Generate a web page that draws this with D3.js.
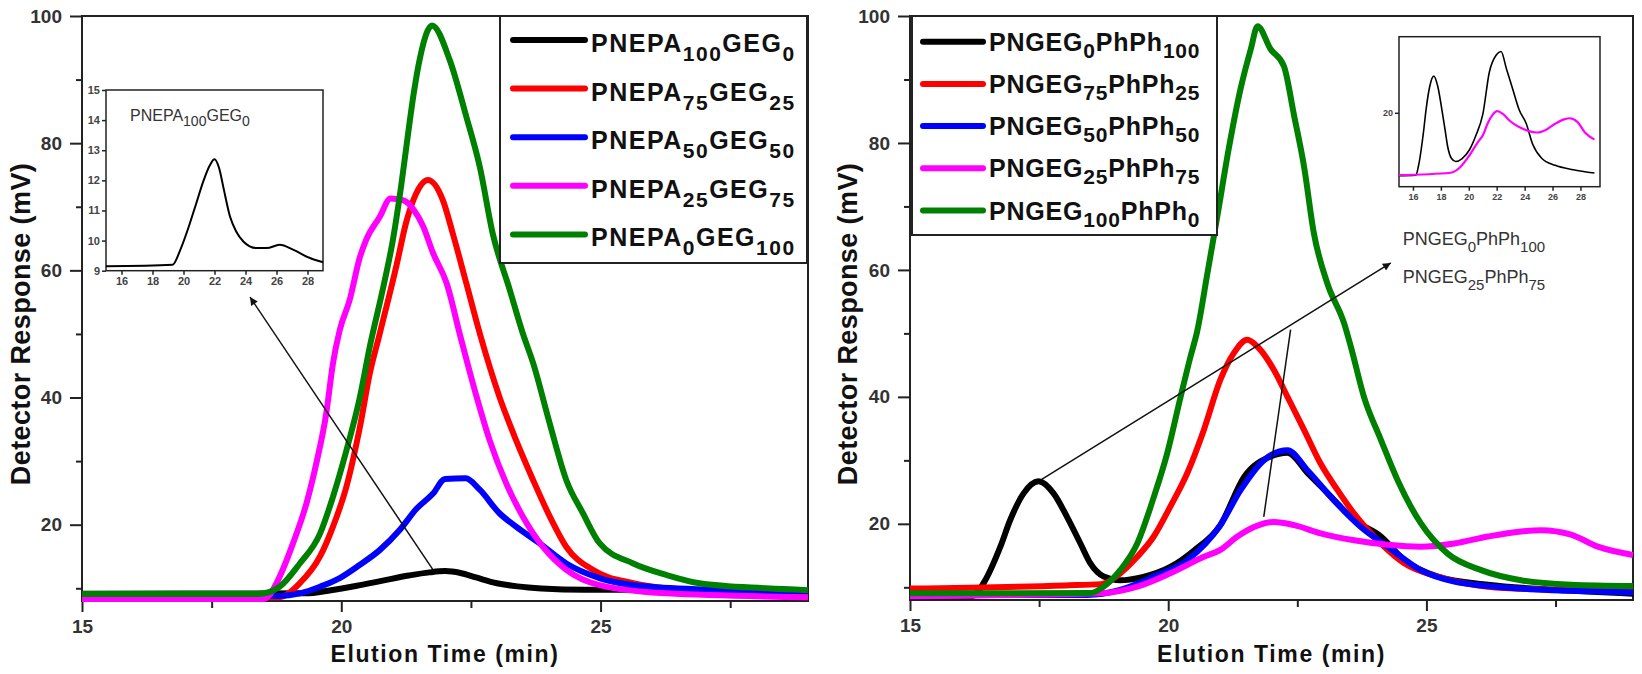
<!DOCTYPE html>
<html>
<head>
<meta charset="utf-8">
<script src="https://cdn.jsdelivr.net/npm/d3@7"></script>
<style>
  body { margin: 0; background: #fff; }
  svg { display: block; font-family: "Liberation Sans", Arial, sans-serif; }
</style>
</head>
<body>
<script>
// ---- left panel series: [elution time (min), detector response (mV)]
var pnepa100_geg0 = [[15,9.15],[19.3,9.2],[19.8,9.7],[20.3,10.4],[20.8,11.2],[21.3,12.0],[21.7,12.5],[22.0,12.7],[22.3,12.4],[22.6,11.7],[23.0,10.8],[23.4,10.3],[23.86,9.97],[24.7,9.75],[25.37,9.75],[26.2,9.86],[27.1,9.69],[28.16,9.42],[29,9.28]];
var pnepa75_geg25 = [[15,8.6],[18.8,8.6],[19.2,10.8],[19.59,15.0],[19.84,19.7],[20.1,26.0],[20.36,35.4],[20.55,43.8],[20.74,50.0],[21.06,60.6],[21.25,67.5],[21.44,72.0],[21.67,74.2],[21.96,71.0],[22.15,65.8],[22.41,58.0],[22.67,50.1],[23.05,40.1],[23.37,33.3],[23.7,27.0],[24.02,21.3],[24.34,16.5],[24.85,12.9],[25.63,10.8],[26.27,10.0],[27.5,9.5],[29,9.3]];
var pnepa50_geg50 = [[15,8.8],[18.8,8.8],[19.2,9.2],[19.59,10.25],[19.97,11.6],[20.36,13.7],[20.74,16.0],[21.13,19.2],[21.45,22.5],[21.77,24.9],[22.0,27.2],[22.4,27.3],[22.67,25.5],[23.05,21.8],[23.37,19.7],[23.82,17.1],[24.34,13.9],[24.98,11.6],[25.95,10.25],[27.55,9.7],[29,9.5]];
var pnepa25_geg75 = [[15,8.3],[18.5,8.3],[18.6,8.8],[18.81,11.8],[19.07,17.1],[19.33,23.4],[19.52,29.7],[19.71,37.5],[19.84,45.4],[19.97,50.6],[20.16,55.3],[20.36,62.1],[20.48,64.8],[20.74,68.4],[20.95,71.3],[21.2,71.0],[21.4,69.5],[21.58,66.9],[21.77,62.7],[22.03,58.0],[22.3,49.5],[22.61,40.1],[22.86,33.3],[23.18,26.5],[23.5,21.3],[23.89,16.5],[24.34,12.9],[24.98,10.5],[26.27,9.2],[29,8.6]];
var pnepa0_geg100 = [[15,9.1],[18.4,9.1],[18.81,10.25],[19.2,13.9],[19.59,18.6],[19.84,24.4],[20.1,31.7],[20.36,40.1],[20.55,48.0],[20.8,57.0],[21.0,65.0],[21.15,73.0],[21.28,81.0],[21.4,88.0],[21.52,93.5],[21.75,98.5],[22.09,93.1],[22.41,84.2],[22.67,76.3],[22.92,65.8],[23.25,56.9],[23.5,50.1],[23.7,45.4],[24.02,35.9],[24.34,27.0],[24.66,21.8],[24.98,17.1],[25.63,13.9],[26.27,12.1],[26.91,10.8],[28.2,10.0],[29,9.7]];

// ---- right panel series
var pngeg0_phph100 = [[15,8.5],[16.2,8.6],[16.42,10.6],[16.75,16.4],[16.94,20.6],[17.2,24.8],[17.49,26.7],[17.78,24.8],[18.04,21.1],[18.3,16.9],[18.49,13.8],[18.75,11.7],[19.07,11.1],[19.5,11.6],[20.04,13.2],[20.5,15.8],[21.01,19.8],[21.47,27.4],[21.98,30.6],[22.31,31.2],[22.7,28.0],[23.15,24.3],[23.6,20.6],[24.12,18.0],[24.57,14.3],[25.22,11.7],[26.19,10.4],[27.48,9.6],[29,9.0]];
var pngeg75_phph25 = [[15,9.8],[18.0,10.3],[18.7,10.5],[19.07,12.2],[19.4,14.8],[19.72,18.0],[20.04,22.7],[20.37,28.0],[20.69,34.8],[21.01,42.7],[21.27,46.9],[21.53,49.0],[21.73,47.9],[22.05,44.2],[22.31,40.0],[22.63,34.8],[22.95,29.5],[23.28,25.3],[23.6,21.6],[24.12,16.9],[24.57,13.8],[25.22,11.7],[26.19,10.1],[27.48,9.6],[29,9.4]];
var pngeg50_phph50 = [[15,8.8],[18.43,8.8],[19.07,9.6],[19.72,11.7],[20.37,14.3],[21.01,19.8],[21.4,25.3],[21.85,30.0],[22.31,31.6],[22.7,28.4],[23.21,23.7],[23.73,19.5],[24.25,16.4],[24.89,12.7],[25.54,10.9],[26.83,9.8],[28.45,9.3],[29,9.2]];
var pngeg25_phph75 = [[15,8.6],[18.69,9.05],[19.4,10.1],[20.04,12.2],[20.69,14.8],[21.01,15.9],[21.34,18.0],[21.66,19.5],[22.05,20.3],[22.44,19.8],[22.95,18.5],[23.6,17.4],[24.25,16.7],[24.89,16.4],[25.54,16.9],[26.19,18.0],[26.83,18.8],[27.22,19.0],[27.8,18.3],[28.32,16.4],[29,15.1]];
var pngeg100_phph0 = [[15,9.05],[18.5,9.1],[18.75,10.1],[19.07,12.7],[19.4,16.9],[19.72,24.2],[19.98,31.1],[20.24,40.0],[20.43,46.3],[20.56,50.3],[20.76,59.5],[20.95,68.4],[21.17,79.0],[21.4,88.5],[21.6,94.8],[21.73,98.4],[21.98,94.8],[22.24,92.1],[22.44,84.2],[22.63,76.3],[22.82,65.8],[23.08,57.9],[23.41,51.5],[23.54,47.8],[23.79,40.0],[24.12,33.2],[24.44,26.9],[24.89,20.1],[25.41,15.3],[26.06,12.7],[26.83,11.1],[27.8,10.4],[29,10.2]];

// ---- labels (parts alternate normal / subscript)
var leftLabels = [["PNEPA","100","GEG","0"],["PNEPA","75","GEG","25"],["PNEPA","50","GEG","50"],["PNEPA","25","GEG","75"],["PNEPA","0","GEG","100"]];
var rightLabels = [["PNGEG","0","PhPh","100"],["PNGEG","75","PhPh","25"],["PNGEG","50","PhPh","50"],["PNGEG","25","PhPh","75"],["PNGEG","100","PhPh","0"]];
var seriesColors = ["#000000","#ff0000","#0000ff","#ff00ff","#008000"];

var yMajorTicks = [20, 40, 60, 80, 100];
var yMinorTicks = [10, 30, 50, 70, 90];
var xMajorTicks = [15, 20, 25];
var xMinorTicks = [17.5, 22.5, 27.5];
var insetXTicks = [16, 18, 20, 22, 24, 26, 28];
var leftInsetYTicks = [9, 10, 11, 12, 13, 14, 15];
var rightInsetYTicks = [20];

// annotation arrows in data units [time, mV]
var leftArrow = [[21.76, 13.0], [18.24, 55.8]];
var rightArrow = [[17.55, 27.0], [24.31, 61.1]];
var rightPointer = [[21.85, 21.1], [22.37, 50.6]];
var rightNotes = [["PNGEG","0","PhPh","100"], ["PNGEG","25","PhPh","75"]];

var width = 1642, height = 674;

var svg = d3.select("body").append("svg")
  .attr("width", width)
  .attr("height", height);

svg.append("defs").append("marker")
  .attr("id", "head")
  .attr("viewBox", "0 0 10 10")
  .attr("refX", 10).attr("refY", 5)
  .attr("markerWidth", 12).attr("markerHeight", 8)
  .attr("markerUnits", "userSpaceOnUse")
  .attr("orient", "auto")
  .append("path")
  .attr("d", "M0,0 L10,5 L0,10 z")
  .attr("fill", "#111");

// writes parts as normal / subscript tspans
function addParts(text, parts, size, subSize, shift) {
  parts.forEach(function (p, i) {
    var t = text.append("tspan").text(p);
    if (i % 2 == 1) {
      t.attr("font-size", subSize).attr("dy", shift);
    } else {
      t.attr("font-size", size).attr("dy", i == 0 ? 0 : -shift);
    }
  });
}

function styleAxis(g, fontSize, color) {
  g.select(".domain").remove();
  g.selectAll(".tick line").attr("stroke", "#222").attr("stroke-width", 2);
  g.selectAll(".tick text")
    .attr("font-size", fontSize)
    .attr("font-weight", "bold")
    .attr("fill", color)
    .attr("font-family", "Liberation Sans, Arial, sans-serif");
}

function drawPanel(p) {
  var x = d3.scaleLinear().domain([15, 29]).range([p.left, p.right]);
  var y = d3.scaleLinear().domain([8, 100]).range([p.bottom, p.top]);

  var g = svg.append("g");

  // axes
  var yAxis = g.append("g").attr("transform", `translate(${p.left},0)`)
    .call(d3.axisLeft(y).tickValues(yMajorTicks).tickSize(12).tickSizeOuter(0).tickPadding(8).tickFormat(d3.format("d")));
  styleAxis(yAxis, 19, "#333");
  var yMinor = g.append("g").attr("transform", `translate(${p.left},0)`)
    .call(d3.axisLeft(y).tickValues(yMinorTicks).tickSize(6).tickSizeOuter(0).tickFormat(""));
  styleAxis(yMinor, 19, "#333");

  var xAxis = g.append("g").attr("transform", `translate(0,${p.bottom})`)
    .call(d3.axisBottom(x).tickValues(xMajorTicks).tickSize(11).tickSizeOuter(0).tickPadding(8).tickFormat(d3.format("d")));
  styleAxis(xAxis, 19, "#333");
  var xMinor = g.append("g").attr("transform", `translate(0,${p.bottom})`)
    .call(d3.axisBottom(x).tickValues(xMinorTicks).tickSize(7).tickSizeOuter(0).tickFormat(""));
  styleAxis(xMinor, 19, "#333");

  // frame
  g.append("rect")
    .attr("x", p.left).attr("y", p.top)
    .attr("width", p.right - p.left).attr("height", p.bottom - p.top)
    .attr("fill", "none").attr("stroke", "#222").attr("stroke-width", 2);

  // curves
  var line = d3.line()
    .x(function (d) { return x(d[0]); })
    .y(function (d) { return y(d[1]); })
    .curve(d3.curveMonotoneX);

  g.selectAll("path.curve")
    .data(p.series)
    .enter()
    .append("path")
    .attr("class", "curve")
    .attr("d", line)
    .attr("fill", "none")
    .attr("stroke", function (d, i) { return seriesColors[i]; })
    .attr("stroke-width", 6)
    .attr("stroke-linejoin", "round");

  // titles
  g.append("text")
    .attr("transform", `translate(${p.yTitleX},324) rotate(-90)`)
    .attr("text-anchor", "middle")
    .attr("font-size", 27).attr("font-weight", "bold")
    .attr("letter-spacing", 0.4)
    .attr("fill", "#111")
    .text("Detector Response (mV)");

  g.append("text")
    .attr("x", (p.left + p.right) / 2).attr("y", 662)
    .attr("text-anchor", "middle")
    .attr("font-size", 23).attr("font-weight", "bold")
    .attr("letter-spacing", 1.6)
    .attr("fill", "#111")
    .text("Elution Time (min)");

  // legend
  var L = p.legend;
  g.append("rect")
    .attr("x", L.x).attr("y", p.top)
    .attr("width", L.w).attr("height", L.h)
    .attr("fill", "#fff").attr("stroke", "#222").attr("stroke-width", 2);

  p.labels.forEach(function (lab, i) {
    var ly = L.row0 + i * L.step;
    g.append("line")
      .attr("x1", L.lineX0).attr("x2", L.lineX1)
      .attr("y1", ly).attr("y2", ly)
      .attr("stroke", seriesColors[i])
      .attr("stroke-width", 6)
      .attr("stroke-linecap", "round");
    var t = g.append("text")
      .attr("x", L.textX).attr("y", ly + L.textDy)
      .attr("font-weight", "bold")
      .attr("letter-spacing", L.spacing)
      .attr("fill", "#111");
    addParts(t, lab, 25, 21, L.shift);
  });

  return {x: x, y: y, g: g};
}

var left = drawPanel({
  left: 82, right: 808, top: 16, bottom: 601, yTitleX: 30,
  series: [pnepa100_geg0, pnepa75_geg25, pnepa50_geg50, pnepa25_geg75, pnepa0_geg100],
  labels: leftLabels,
  legend: {x: 500, w: 307, h: 247, row0: 40, step: 48.6, lineX0: 513, lineX1: 585, textX: 591, textDy: 12, spacing: 1.5, shift: 9}
});

var right = drawPanel({
  left: 910, right: 1633, top: 16, bottom: 600, yTitleX: 857,
  series: [pngeg0_phph100, pngeg75_phph25, pngeg50_phph50, pngeg25_phph75, pngeg100_phph0],
  labels: rightLabels,
  legend: {x: 912, w: 305, h: 219, row0: 41.7, step: 42.2, lineX0: 923, lineX1: 983, textX: 989, textDy: 9, spacing: 0.8, shift: 7}
});

// arrows
function arrow(panel, pts, head) {
  var l = panel.g.append("line")
    .attr("x1", panel.x(pts[0][0])).attr("y1", panel.y(pts[0][1]))
    .attr("x2", panel.x(pts[1][0])).attr("y2", panel.y(pts[1][1]))
    .attr("stroke", "#111").attr("stroke-width", 1.5);
  if (head) l.attr("marker-end", "url(#head)");
}
arrow(left, leftArrow, true);
arrow(right, rightArrow, true);
arrow(right, rightPointer, false);

rightNotes.forEach(function (n, i) {
  var t = right.g.append("text")
    .attr("x", right.x(24.54)).attr("y", right.y(64.0 - i * 6.0))
    .attr("fill", "#333");
  addParts(t, n, 18, 15, 7);
});

// insets
function drawInset(o) {
  var x = d3.scaleLinear().domain(o.xDomain).range([o.x0, o.x1]);
  var y = d3.scaleLinear().domain(o.yDomain).range([o.y0, o.y1]);
  var g = svg.append("g");
  g.append("rect")
    .attr("x", o.x0).attr("y", o.y1)
    .attr("width", o.x1 - o.x0).attr("height", o.y0 - o.y1)
    .attr("fill", "#fff").attr("stroke", "#222").attr("stroke-width", 1.5);

  var xa = g.append("g").attr("transform", `translate(0,${o.y0})`)
    .call(d3.axisBottom(x).tickValues(insetXTicks).tickSize(4).tickSizeOuter(0).tickPadding(3).tickFormat(d3.format("d")));
  styleAxis(xa, o.fontSize, "#444");
  xa.selectAll(".tick line").attr("stroke-width", 1.5);
  var ya = g.append("g").attr("transform", `translate(${o.x0},0)`)
    .call(d3.axisLeft(y).tickValues(o.yTicks).tickSize(4).tickSizeOuter(0).tickPadding(2).tickFormat(d3.format("d")));
  styleAxis(ya, o.fontSize, "#444");
  ya.selectAll(".tick line").attr("stroke-width", 1.5);

  var line = d3.line()
    .x(function (d) { return x(d[0]); })
    .y(function (d) { return y(d[1]); })
    .curve(d3.curveMonotoneX);

  o.series.forEach(function (s, i) {
    g.append("path")
      .attr("d", line(s))
      .attr("fill", "none")
      .attr("stroke", o.colors[i])
      .attr("stroke-width", o.widths[i]);
  });
  return {x: x, y: y, g: g};
}

var insetL = drawInset({
  x0: 106, x1: 323, y0: 270.7, y1: 90,
  xDomain: [15, 29], yDomain: [9, 15], yTicks: leftInsetYTicks, fontSize: 11,
  series: [pnepa100_geg0], colors: ["#000"], widths: [2]
});
var insetLabel = insetL.g.append("text")
  .attr("x", insetL.x(16.55)).attr("y", insetL.y(13.97))
  .attr("fill", "#333");
addParts(insetLabel, ["PNEPA","100","GEG","0"], 16, 14, 5);

drawInset({
  x0: 1399, x1: 1600, y0: 186.7, y1: 36.7,
  xDomain: [15, 29.4], yDomain: [6.5, 33.9], yTicks: rightInsetYTicks, fontSize: 9,
  series: [pngeg0_phph100, pngeg25_phph75], colors: ["#000", "#ff00ff"], widths: [1.6, 2.2]
});
</script>
</body>
</html>
